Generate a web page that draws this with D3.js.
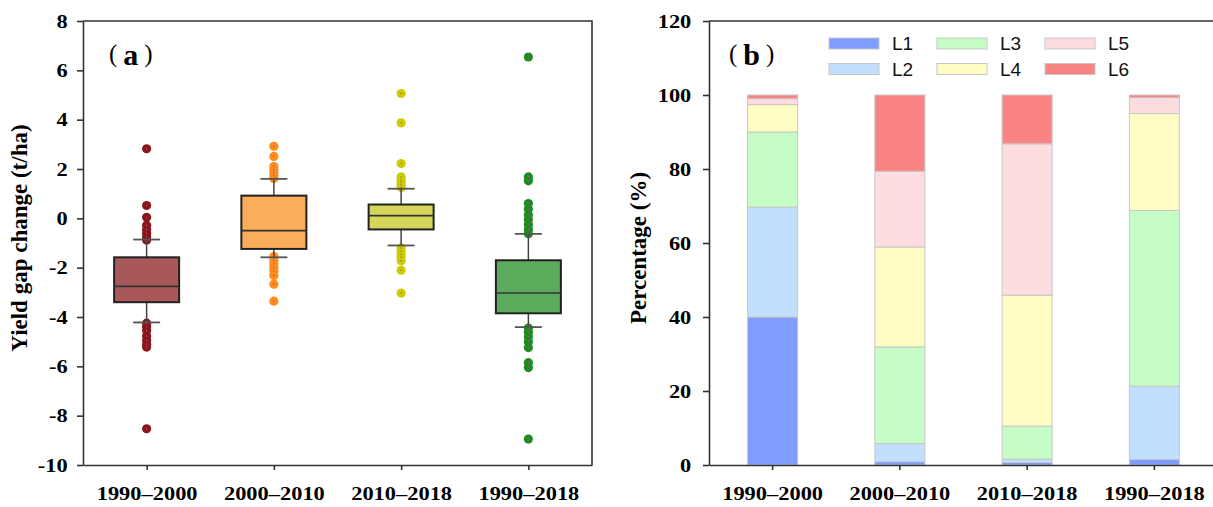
<!DOCTYPE html>
<html>
<head>
<meta charset="utf-8">
<script src="https://cdn.jsdelivr.net/npm/d3@7"></script>
<style>
  body { margin: 0; background: #fff; }
  svg { display: block; }
</style>
</head>
<body>
<div id="chart"></div>
<script>
/* DATA */
const categories = ["1990–2000", "2000–2010", "2010–2018", "1990–2018"];

// panel (a): box plot summaries, t/ha
const whiskerLow = [-4.22, -1.58, -1.10, -4.41];
const q1 = [-3.40, -1.24, -0.45, -3.85];
const median = [-2.76, -0.50, 0.11, -3.03];
const q3 = [-1.58, 0.92, 0.56, -1.70];
const whiskerHigh = [-0.86, 1.60, 1.20, -0.63];
const outliers = [
  [2.82, 0.52, 0.04, -0.28, -0.45, -0.60, -0.75, -0.88, -4.25, -4.40, -4.55, -4.77, -4.95, -5.10, -5.22, -8.53],
  [2.92, 2.51, 2.10, 1.95, 1.85, 1.75, 1.62, -1.55, -1.70, -1.85, -2.00, -2.15, -2.32, -2.67, -3.36],
  [5.06, 3.87, 2.22, 1.68, 1.55, 1.45, 1.35, 1.25, -1.20, -1.32, -1.45, -1.58, -1.72, -2.10, -3.03],
  [6.54, 1.68, 1.52, 0.60, 0.38, 0.15, -0.05, -0.25, -0.45, -0.62, -4.45, -4.62, -4.80, -5.00, -5.24, -5.85, -6.05, -8.95]
];
const yTicksA = [-10, -8, -6, -4, -2, 0, 2, 4, 6, 8];

// panel (b): share of each level, %
const levels = ["L1", "L2", "L3", "L4", "L5", "L6"];
const L1 = [40.0, 0.9, 0.7, 1.5];
const L2 = [29.7, 4.9, 0.9, 19.8];
const L3 = [20.3, 26.1, 8.9, 47.5];
const L4 = [7.4, 27.0, 35.4, 26.2];
const L5 = [1.6, 20.5, 40.9, 4.3];
const L6 = [1.0, 20.6, 13.2, 0.7];
const yTicksB = [0, 20, 40, 60, 80, 100, 120];

/* STYLE */
const width = 1213, height = 507;
const boxFill = ["#a85858", "#fbad5a", "#d6d65a", "#5caa5c"];
const dotFill = ["#8b1616", "#ff8c1a", "#cccc00", "#1e8c1e"];
const levelColor = ["#7f9cff", "#c2dfff", "#c6fcc6", "#fffcc4", "#fddde0", "#fa8484"];
const serif = "'Liberation Serif','Times New Roman',serif";
const axisColor = "#333";
const stretch = 1.18;

const svg = d3.select("#chart").append("svg")
  .attr("width", width)
  .attr("height", height)
  .style("background-color", "#ffffff");

function styleAxis(g) {
  g.select(".domain").attr("stroke", axisColor).attr("stroke-width", 1.6);
  g.selectAll(".tick line").attr("stroke", axisColor).attr("stroke-width", 1.6);
  g.selectAll(".tick text")
    .attr("fill", "#000")
    .style("font-family", serif)
    .style("font-weight", "bold")
    .style("font-size", "19px")
    .attr("transform", `scale(${stretch},1)`);
}

// plain hyphen for negatives, as in the original
const hyphenFmt = d => String(d);

function panelLabel(x, letter) {
  const t = svg.append("text")
    .attr("x", x)
    .attr("y", 65)
    .style("font-family", serif);
  t.append("tspan").attr("dy", -3).style("font-size", "25px").text("(");
  t.append("tspan").attr("dx", 6).attr("dy", 3)
    .style("font-size", "30px").style("font-weight", "bold").text(letter);
  t.append("tspan").attr("dx", 6).attr("dy", -3).style("font-size", "25px").text(")");
}

function axisTitle(x, yMid, label) {
  svg.append("text")
    .attr("transform", `translate(${x},${yMid}) rotate(-90)`)
    .attr("text-anchor", "middle")
    .style("font-family", serif)
    .style("font-weight", "bold")
    .style("font-size", "23px")
    .text(label);
}

/*************/
/* PANEL (a) */
/*************/
const a = { left: 83, right: 592, top: 21, bottom: 465 };

const xA = d3.scalePoint()
  .domain(categories)
  .range([a.left, a.right])
  .padding(0.5);

const yA = d3.scaleLinear()
  .domain([-10, 8])
  .range([a.bottom, a.top]);

// frame
svg.append("path")
  .attr("d", `M${a.left},${a.top}H${a.right}V${a.bottom}`)
  .attr("fill", "none")
  .attr("stroke", axisColor)
  .attr("stroke-width", 1.6);

svg.append("g")
  .attr("transform", `translate(${a.left},0)`)
  .call(d3.axisLeft(yA).tickValues(yTicksA).tickFormat(hyphenFmt)
    .tickSize(6).tickPadding(7).tickSizeOuter(0))
  .call(styleAxis);

svg.append("g")
  .attr("transform", `translate(0,${a.bottom})`)
  .call(d3.axisBottom(xA).tickSize(5).tickPadding(17).tickSizeOuter(0))
  .call(styleAxis);

const boxW = 65, capW = 27;
const boxes = categories.map((c, i) => ({
  cat: c, i,
  lo: whiskerLow[i], q1: q1[i], med: median[i], q3: q3[i], hi: whiskerHigh[i],
  out: outliers[i]
}));

// outliers first, lines on top
boxes.forEach(b => {
  const g = svg.append("g");
  g.selectAll("circle.out")
    .data(b.out)
    .join("circle")
    .attr("class", "out")
    .attr("cx", xA(b.cat))
    .attr("cy", d => yA(d))
    .attr("r", 4.6)
    .attr("fill", dotFill[b.i]);
  g.selectAll("circle.pin")
    .data(b.out)
    .join("circle")
    .attr("class", "pin")
    .attr("cx", xA(b.cat))
    .attr("cy", d => yA(d))
    .attr("r", 0.7)
    .attr("fill", "#b040c0");
});

const boxG = svg.selectAll(".box")
  .data(boxes)
  .join("g")
  .attr("class", "box");

// whisker stems
boxG.append("line")
  .attr("x1", d => xA(d.cat)).attr("x2", d => xA(d.cat))
  .attr("y1", d => yA(d.hi)).attr("y2", d => yA(d.q3))
  .attr("stroke", "#444").attr("stroke-width", 1.5);
boxG.append("line")
  .attr("x1", d => xA(d.cat)).attr("x2", d => xA(d.cat))
  .attr("y1", d => yA(d.q1)).attr("y2", d => yA(d.lo))
  .attr("stroke", "#444").attr("stroke-width", 1.5);
// caps
boxG.append("line")
  .attr("x1", d => xA(d.cat) - capW / 2).attr("x2", d => xA(d.cat) + capW / 2)
  .attr("y1", d => yA(d.hi)).attr("y2", d => yA(d.hi))
  .attr("stroke", "#555").attr("stroke-width", 1.8);
boxG.append("line")
  .attr("x1", d => xA(d.cat) - capW / 2).attr("x2", d => xA(d.cat) + capW / 2)
  .attr("y1", d => yA(d.lo)).attr("y2", d => yA(d.lo))
  .attr("stroke", "#555").attr("stroke-width", 1.8);
// box
boxG.append("rect")
  .attr("x", d => xA(d.cat) - boxW / 2)
  .attr("y", d => yA(d.q3))
  .attr("width", boxW)
  .attr("height", d => yA(d.q1) - yA(d.q3))
  .attr("fill", d => boxFill[d.i])
  .attr("stroke", "#222")
  .attr("stroke-width", 2);
// median
boxG.append("line")
  .attr("x1", d => xA(d.cat) - boxW / 2).attr("x2", d => xA(d.cat) + boxW / 2)
  .attr("y1", d => yA(d.med)).attr("y2", d => yA(d.med))
  .attr("stroke", "#333").attr("stroke-width", 1.6);

axisTitle(27, 238, "Yield gap change (t/ha)");
panelLabel(109, "a");

/*************/
/* PANEL (b) */
/*************/
const b = { left: 709, right: 1218, top: 21, bottom: 465 };

const xB = d3.scaleBand()
  .domain(categories)
  .range([b.left, b.right])
  .paddingInner(0.607)
  .paddingOuter(0.3035);

const yB = d3.scaleLinear()
  .domain([0, 120])
  .range([b.bottom, b.top]);

svg.append("path")
  .attr("d", `M${b.left},${b.top}H${b.right}V${b.bottom}`)
  .attr("fill", "none")
  .attr("stroke", axisColor)
  .attr("stroke-width", 1.6);

const table = categories.map((c, i) => ({
  cat: c, L1: L1[i], L2: L2[i], L3: L3[i], L4: L4[i], L5: L5[i], L6: L6[i]
}));
const series = d3.stack().keys(levels)(table);

svg.append("g")
  .selectAll("g")
  .data(series)
  .join("g")
  .attr("fill", (d, i) => levelColor[i])
  .selectAll("rect")
  .data(d => d)
  .join("rect")
  .attr("x", d => xB(d.data.cat))
  .attr("y", d => yB(d[1]))
  .attr("width", xB.bandwidth())
  .attr("height", d => yB(d[0]) - yB(d[1]))
  .attr("stroke", "#c8c8c8")
  .attr("stroke-width", 1);

svg.append("g")
  .attr("transform", `translate(${b.left},0)`)
  .call(d3.axisLeft(yB).tickValues(yTicksB).tickSize(6).tickPadding(9).tickSizeOuter(0))
  .call(styleAxis);

svg.append("g")
  .attr("transform", `translate(0,${b.bottom})`)
  .call(d3.axisBottom(xB).tickSize(5).tickPadding(17).tickSizeOuter(0))
  .call(styleAxis);

axisTitle(646, 248, "Percentage (%)");
panelLabel(729, "b");

// legend: 3 columns x 2 rows
const legend = svg.append("g")
  .selectAll("g")
  .data(levels)
  .join("g")
  .attr("transform", (d, i) => `translate(${829 + Math.floor(i / 2) * 108},${38 + (i % 2) * 25.5})`);

legend.append("rect")
  .attr("width", 50)
  .attr("height", 11)
  .attr("fill", (d, i) => levelColor[i])
  .attr("stroke", "#c8c8c8")
  .attr("stroke-width", 1);

legend.append("text")
  .attr("x", 63)
  .attr("y", 12)
  .style("font-family", "'Liberation Sans',Arial,sans-serif")
  .style("font-size", "19px")
  .attr("fill", "#111")
  .text(d => d);
</script>
</body>
</html>
